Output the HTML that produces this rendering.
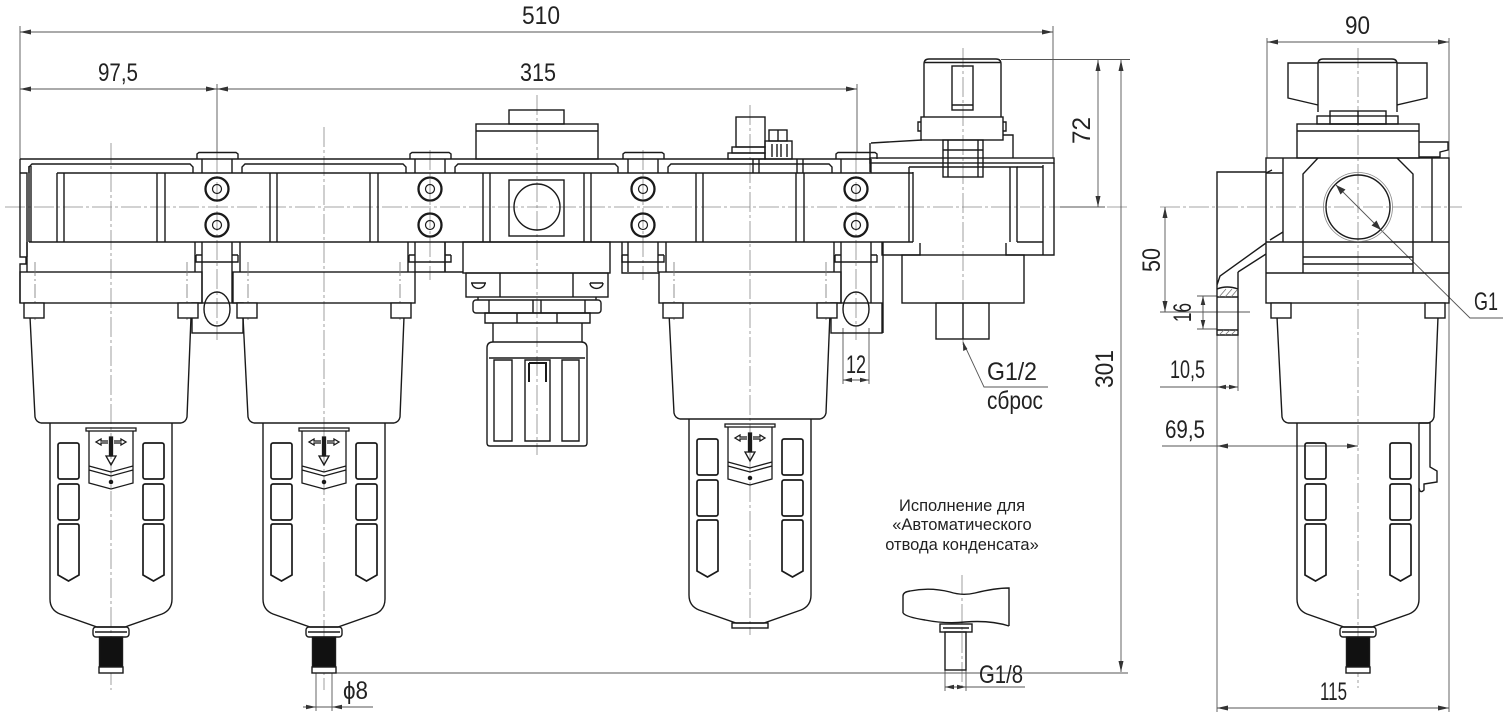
<!DOCTYPE html>
<html><head><meta charset="utf-8"><style>
html,body{margin:0;padding:0;background:#fff;}
svg{display:block}
text{font-family:"Liberation Sans","DejaVu Sans",sans-serif;fill:#222}
</style></head><body>
<svg width="1503" height="725" viewBox="0 0 1503 725" xmlns="http://www.w3.org/2000/svg">
<defs>
 <g id="mbody" fill="none" stroke="#1a1a1a" stroke-width="1.4">
  <path d="M-82 173 V167 L-79 164 H79 L82 167 V173"/>
  <path d="M-54 173 V242 M-47 173 V242 M46 173 V242 M54 173 V242"/>
  <path d="M-84 242 V272 M84 242 V272"/>
  <rect x="-91" y="272" width="182" height="31"/>
  <path d="M-76 262 V322 M76 262 V322" stroke="#777" stroke-width="0.8" stroke-dasharray="14 3 2 3"/>
 </g>
 <g id="conn" fill="none" stroke="#1a1a1a" stroke-width="1.4">
  <path d="M-20 159 V154 L-18 152.5 H19 L21 154 V159"/>
  <path d="M-15 159 V173 M15 159 V173"/>
  <circle cx="0" cy="189" r="11.5" stroke-width="2.3"/>
  <circle cx="0" cy="189" r="4.5" stroke-width="1.2"/>
  <circle cx="0" cy="225" r="11.5" stroke-width="2.3"/>
  <circle cx="0" cy="225" r="4.5" stroke-width="1.2"/>
  <path d="M-15 242 V272 M15 242 V272"/>
  <path d="M-21 255 H-15 M15 255 H21 M-21 255 V262 H21 V255"/>
 </g>
 <g id="bracket" fill="none" stroke="#1a1a1a" stroke-width="1.4">
  <path d="M-15 272 V303 M15 272 V303"/>
  <rect x="-25" y="303" width="51" height="30"/>
  <ellipse cx="0" cy="309" rx="13" ry="17"/>
 </g>
 <g id="nuts" fill="#fff" stroke="#1a1a1a" stroke-width="1.4">
  <rect x="-87" y="303" width="20" height="15"/>
  <rect x="67" y="303" width="20" height="15"/>
 </g>
 <g id="bowl" fill="none" stroke="#1a1a1a" stroke-width="1.4">
  <path d="M-81 317 L-76 417 Q-75 422 -70 423 L70 423 Q75 422 76 417 L80 317"/>
  <path d="M-61 423 L-61 599 Q-61 610 -51 614 L-14 627 L14 627 L51 614 Q61 610 61 599 L61 423"/>
  <rect x="-53" y="443" width="21" height="36" rx="2" stroke-width="1.7"/>
  <rect x="-53" y="484" width="21" height="36" rx="2" stroke-width="1.7"/>
  <path d="M-53 526 Q-53 524 -51 524 L-34 524 Q-32 524 -32 526 L-32 575 L-42.5 581 L-53 575 Z" stroke-width="1.7"/>
  <rect x="32" y="443" width="21" height="36" rx="2" stroke-width="1.7"/>
  <rect x="32" y="484" width="21" height="36" rx="2" stroke-width="1.7"/>
  <path d="M32 526 Q32 524 34 524 L51 524 Q53 524 53 526 L53 575 L42.5 581 L32 575 Z" stroke-width="1.7"/>
 </g>
 <g id="plate" fill="none" stroke="#1a1a1a" stroke-width="1.3">
  <rect x="-25" y="428" width="50" height="3"/>
  <path d="M-22 431 L-22 483 L0 489 L22 483 L22 431"/>
  <path d="M-22 466 L0 472 L22 466"/>
  <path d="M-22 470 L0 476 L22 470"/>
  <path d="M-3 441 H-10 V439 L-15 442 L-10 445 V443 H-3"/>
  <path d="M3 441 H10 V439 L15 442 L10 445 V443 H3"/>
  <path d="M-1.5 437 H1.5 V456 H-1.5 Z" fill="#1a1a1a"/>
  <path d="M-5 456 L5 456 L0 465 Z"/>
  <circle cx="0" cy="482" r="1.6" fill="#1a1a1a"/>
 </g>
 <g id="drain" fill="none" stroke="#1a1a1a" stroke-width="1.4">
  <rect x="-18" y="627" width="36" height="10" rx="3"/>
  <line x1="-16" y1="632" x2="16" y2="632"/>
  <rect x="-11.5" y="637" width="23" height="30" fill="#111"/>
  <rect x="-12" y="667" width="24" height="6" fill="#fff"/>
 </g>
</defs>

<!-- ========== CENTER LINES ========== -->
<g fill="none" stroke="#888" stroke-width="0.8" stroke-dasharray="20 3 3 3">
 <path d="M5 207 H1130"/>
 <path d="M111 143 V690 M324 127 V690 M537 95 V455 M750 105 V635 M963 48 V345"/>
 <path d="M217 153 V340 M430 150 V280 M643 150 V280 M856 153 V340"/>
 <path d="M1160 207 H1462 M1358 48 V688"/>
 <path d="M962 575 V690"/>
</g>

<!-- ========== DIMENSION LINES ========== -->
<g fill="none" stroke="#555" stroke-width="0.9">
 <path d="M20 26 V160 M1053 26 V158"/>
 <path d="M20 32 H1053"/>
 <path d="M20 89 H857"/>
 <path d="M217 84 V153 M857 84 V153"/>
 <path d="M1001 59.5 H1130"/>
 <path d="M1098 60 V207 M1121 60 V672"/>
 <path d="M1060 207 H1105"/>
 <path d="M333 673 H1128"/>
 <path d="M1267 38 V158 M1449 38 V712 M1217 335 V712"/>
 <path d="M1267 42 H1449"/>
 <path d="M1217 708 H1449"/>
 <path d="M1162 446 H1358"/>
 <path d="M1160 387 H1238 M1238 335 V391"/>
 <path d="M1197 296 H1217 M1197 329 H1217 M1203 296 V329"/>
 <path d="M1165 207 V312 M1160 312 H1250"/>
 <path d="M843 328 V384 M869 328 V384 M843 380 H869"/>
 <path d="M316 673 V711 M332 673 V711 M303 707 H373"/>
 <path d="M945 668 V691 M966 668 V691 M945 687 H1025"/>
 <path d="M963 342 L984 387 H1048"/>
 <path d="M1381 230 L1470 318 H1503"/>
 <path d="M1336 185 L1381 230"/>
</g>
<g fill="#333" stroke="none">
 <path d="M20 32 l11 -2.5 v5 z M1053 32 l-11 -2.5 v5 z"/>
 <path d="M20 89 l11 -2.5 v5 z M217 89 l-11 -2.5 v5 z M217 89 l11 -2.5 v5 z M857 89 l-11 -2.5 v5 z"/>
 <path d="M1098 60 l-2.5 11 h5 z M1098 207 l-2.5 -11 h5 z"/>
 <path d="M1121 60 l-2.5 11 h5 z M1121 672 l-2.5 -11 h5 z"/>
 <path d="M1267 42 l11 -2.5 v5 z M1449 42 l-11 -2.5 v5 z"/>
 <path d="M1217 708 l11 -2.5 v5 z M1449 708 l-11 -2.5 v5 z"/>
 <path d="M1217 446 l11 -2.5 v5 z M1358 446 l-11 -2.5 v5 z"/>
 <path d="M1217 387 l9 -2.3 v4.6 z M1238 387 l-9 -2.3 v4.6 z"/>
 <path d="M1203 296 l-2.3 9 h4.6 z M1203 329 l-2.3 -9 h4.6 z"/>
 <path d="M1165 207 l-2.5 11 h5 z M1165 312 l-2.5 -11 h5 z"/>
 <path d="M843 380 l9 -2.3 v4.6 z M869 380 l-9 -2.3 v4.6 z"/>
 <path d="M316 707 l-10 -2.3 v4.6 z M332 707 l10 -2.3 v4.6 z"/>
 <path d="M945 687 l9 -2.3 v4.6 z M966 687 l-9 -2.3 v4.6 z"/>
 <path d="M963 342 l0.2 9 l4.2 -2 z"/>
 <path d="M1336 185 l9.5 4.5 l-5 5 z M1381 230 l-9.5 -4.5 l5 -5 z"/>
</g>

<!-- ========== FRONT VIEW BODY ========== -->
<g fill="none" stroke="#1a1a1a" stroke-width="1.4">
 <!-- global top & panel lines -->
 <path d="M20 159 H871"/>
 <path d="M57 173 H913 M29 242 H913"/>
 <!-- left end -->
 <path d="M20 159 V257 H26 V264 H20 V303"/>
 <path d="M20 173 H27 V257"/>
 <path d="M29 166 V242 M31 166 V242"/>
 <!-- regulator -->
 <rect x="509" y="110" width="55" height="14"/>
 <rect x="476" y="124" width="122" height="35"/>
 <path d="M476 131 H598"/>
 <path d="M455 173 V167 L458 164 H615 L618 167 V173"/>
 <path d="M483 173 V242 M490 173 V242 M584 173 V242 M591 173 V242"/>
 <rect x="509" y="180" width="55" height="56"/>
 <circle cx="537" cy="207" r="23"/>
 <rect x="463" y="242" width="147" height="31"/>
 <rect x="466" y="273" width="142" height="24"/>
 <path d="M500 273 V297 M573 273 V297"/>
 <path d="M471 283 H486 M590 283 H603"/>
 <path d="M472 283 A6 5 0 0 0 485 283 M590 283 A6 5 0 0 0 603 283"/>
 <path d="M478 297 V300 M596 297 V300"/>
 <rect x="473" y="300" width="128" height="13" rx="3"/>
 <path d="M489 300 V313 M585 300 V313 M533 300 V313 M541 300 V313"/>
 <path d="M485 313 H590 V323 H485 Z"/>
 <path d="M517 313 V323 M557 313 V323"/>
 <path d="M493 323 V342 M582 323 V342"/>
 <path d="M487 443 V348 Q487 342 493 342 H581 Q587 342 587 348 V443 Q587 446 584 446 H490 Q487 446 487 443 Z"/>
 <path d="M489 358 H585"/>
 <path d="M494 360 H512 V441 H494 Z M525 360 H550 V441 H525 Z M562 360 H579 V441 H562 Z"/>
 <path d="M529 363 H546 V382 M529 363 V382" stroke-width="2"/>
 <!-- connector 430 (between module 2 & regulator) -->
 <path d="M415 272 H445 V242 M445 272 H463"/>
 <!-- connector 643 -->
 <path d="M622 242 V273 H659"/>
 <!-- module 4 top gauge -->
 <rect x="736" y="117" width="29" height="30"/>
 <rect x="732" y="147" width="33" height="6"/>
 <rect x="728" y="153" width="37" height="6"/>
 <rect x="769" y="130" width="18" height="11"/>
 <path d="M778 130 V141"/>
 <rect x="765" y="141" width="27" height="18"/>
 <path d="M772 144 V157 M777 144 V157 M781 144 V157 M787 144 V157"/>
 <path d="M753 159 V173 M759 159 V173 M797 159 V173 M803 159 V173"/>
 <!-- connector 856 right -->
 <path d="M883 242 V333"/>
 <path d="M870 143 V172 M871 143 L922 140"/>
 <!-- shutoff valve -->
 <path d="M924 117 V64 Q924 59 929 59 H996 Q1001 59 1001 64 V117"/>
 <path d="M925 62.5 H1000"/>
 <rect x="952" y="66" width="21" height="44"/>
 <path d="M952 105 H973"/>
 <rect x="921" y="117" width="82" height="23"/>
 <path d="M921 122 H918 V131 H921 M1003 122 H1006 V131 H1003"/>
 <path d="M1003 135 H1013 V158"/>
 <rect x="943" y="140" width="40" height="37"/>
 <path d="M948 140 V177 M978 140 V177 M943 150 H983"/>
 <rect x="870" y="158" width="184" height="5"/>
 <path d="M1054 163 V255 H1006 V243"/>
 <path d="M1043 165 V255"/>
 <path d="M882 242 V255 H920 V243"/>
 <path d="M909 167 H1017 V242 M909 167 V242 M913 172 V242 M1010 167 V242"/>
 <path d="M1017 167 H1043 M1017 242 H1043"/>
 <rect x="902" y="255" width="122" height="48"/>
 <rect x="936" y="303" width="53" height="36"/>
 <path d="M963 303 V339"/>
</g>

<use href="#mbody" x="111"/>
<use href="#mbody" x="324"/>
<use href="#mbody" x="750"/>
<use href="#conn" x="217"/>
<use href="#conn" x="430"/>
<use href="#conn" x="643"/>
<use href="#conn" x="856"/>
<use href="#bracket" x="217"/>
<use href="#bracket" x="856"/>

<use href="#bowl" x="111"/>
<use href="#bowl" x="324"/>
<use href="#bowl" transform="translate(750,-4)"/>
<use href="#nuts" x="111"/>
<use href="#nuts" x="324"/>
<use href="#nuts" x="750"/>
<use href="#plate" x="111"/>
<use href="#plate" x="324"/>
<use href="#plate" transform="translate(750,-4)"/>
<use href="#drain" x="111"/>
<use href="#drain" x="324"/>
<rect x="732" y="623" width="36" height="5" fill="none" stroke="#1a1a1a" stroke-width="1.4"/>

<!-- ========== AUTO DRAIN DETAIL ========== -->
<g fill="none" stroke="#1a1a1a" stroke-width="1.4">
 <path d="M903 613 V596 Q903 592 910 591 Q930 587 950 592 Q962 596 975 593 Q995 588 1009 588 V626"/>
 <path d="M903 613 Q906 617 925 620 Q945 624 965 622 Q990 620 1009 626"/>
 <rect x="940" y="624" width="32" height="8"/>
 <path d="M943 628 H969"/>
 <rect x="945" y="632" width="21" height="38"/>
</g>

<!-- ========== SIDE VIEW ========== -->
<g fill="none" stroke="#1a1a1a" stroke-width="1.4">
 <path d="M1318 112 V64 Q1318 59 1323 59 H1392 Q1397 59 1397 64 V112"/>
 <path d="M1319 62.5 H1396"/>
 <path d="M1318 63 H1288 V98 L1318 105"/>
 <path d="M1397 63 H1427 V98 L1397 105"/>
 <rect x="1317" y="116" width="81" height="8"/>
 <rect x="1330" y="111" width="56" height="13"/>
 <path d="M1358 111 V124"/>
 <rect x="1297" y="124" width="122" height="34"/>
 <path d="M1297 131 H1419"/>
 <path d="M1419 142 H1448 V150 L1440 152 V157 H1419"/>
 <rect x="1266" y="158" width="183" height="145"/>
 <path d="M1283 158 V242 M1432 158 V242"/>
 <path d="M1303 242 V174 L1318 158 M1397 158 L1413 174 V242"/>
 <path d="M1266 242 H1449 M1266 273 H1449"/>
 <path d="M1303 242 V273 M1413 242 V273"/>
 <path d="M1303 257 H1413 M1303 264 H1413"/>
 <path d="M1266 173 H1283"/>
 <path d="M1266 173 L1272 170 M1270 240 L1283 232"/>
 <circle cx="1358" cy="207" r="32"/>
 <!-- bracket -->
 <path d="M1266 172 H1217 V285 L1220 276 L1266 243"/>
 <path d="M1238 272 L1266 254"/>
 <path d="M1217 285 V335 H1238 V272"/>
 <path d="M1217 289 Q1227 285 1238 289 M1217 297 H1238 M1217 330 H1238"/>
 <!-- hook on bowl -->
 <path d="M1419 423 H1430 V467 L1437 471 V482 L1424 484 V490 Q1420 494 1419 488"/>
</g>
<circle cx="1358" cy="207" r="34.5" fill="none" stroke="#888" stroke-width="0.8"/>
<g stroke="#777" stroke-width="0.8">
 <path d="M1219 297 L1226 289 M1225 297 L1232 289 M1231 297 L1237 290"/>
 <path d="M1219 335 L1224 330 M1225 335 L1230 330 M1231 335 L1236 330"/>
</g>
<use href="#bowl" x="1358"/>
<use href="#nuts" x="1358"/>
<use href="#drain" x="1358"/>

<!-- ========== TEXT ========== -->
<g font-size="25">
 <text x="522" y="24" textLength="38" lengthAdjust="spacingAndGlyphs">510</text>
 <text x="98" y="81" textLength="40" lengthAdjust="spacingAndGlyphs">97,5</text>
 <text x="520" y="81" textLength="36" lengthAdjust="spacingAndGlyphs">315</text>
 <text transform="translate(1090,144) rotate(-90)" textLength="27" lengthAdjust="spacingAndGlyphs">72</text>
 <text transform="translate(1113,388) rotate(-90)" textLength="38" lengthAdjust="spacingAndGlyphs">301</text>
 <text x="1345" y="34" textLength="25" lengthAdjust="spacingAndGlyphs">90</text>
 <text transform="translate(1160,272) rotate(-90)" textLength="24" lengthAdjust="spacingAndGlyphs">50</text>
 <text transform="translate(1191,322) rotate(-90)" textLength="19" lengthAdjust="spacingAndGlyphs">16</text>
 <text x="1170" y="378" textLength="35" lengthAdjust="spacingAndGlyphs">10,5</text>
 <text x="1165" y="438" textLength="40" lengthAdjust="spacingAndGlyphs">69,5</text>
 <text x="1320" y="700" textLength="27" lengthAdjust="spacingAndGlyphs">115</text>
 <text x="1474" y="310" textLength="24" lengthAdjust="spacingAndGlyphs">G1</text>
 <text x="987" y="380" textLength="50" lengthAdjust="spacingAndGlyphs">G1/2</text>
 <text x="987" y="409" textLength="56" lengthAdjust="spacingAndGlyphs">сброс</text>
 <text x="846" y="373" textLength="20" lengthAdjust="spacingAndGlyphs">12</text>
 <text x="343" y="699" textLength="25" lengthAdjust="spacingAndGlyphs">ϕ8</text>
 <text x="979" y="683" textLength="44" lengthAdjust="spacingAndGlyphs">G1/8</text>
</g>
<g font-size="16.5" text-anchor="middle">
 <text x="962" y="511">Исполнение для</text>
 <text x="962" y="530">«Автоматического</text>
 <text x="962" y="550">отвода конденсата»</text>
</g>
</svg>
</body></html>
